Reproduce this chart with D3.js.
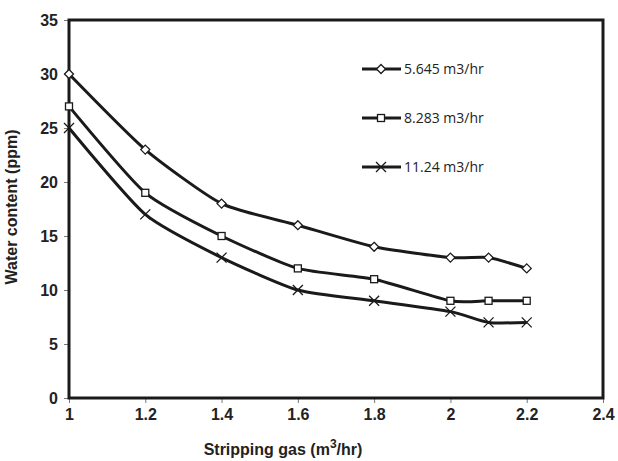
<!DOCTYPE html>
<html>
<head>
<meta charset="utf-8">
<script src="https://cdn.jsdelivr.net/npm/d3@7"></script>
<style>
  body { margin: 0; background: #fff; }
</style>
</head>
<body>
<div id="chart"></div>
<script>
// Data
const xValues = [1, 1.2, 1.4, 1.6, 1.8, 2, 2.1, 2.2];
const series1 = [30, 23, 18, 16, 14, 13, 13, 12];   // 5.645 m3/hr
const series2 = [27, 19, 15, 12, 11, 9, 9, 9];      // 8.283 m3/hr
const series3 = [25, 17, 13, 10, 9, 8, 7, 7];       // 11.24 m3/hr
const seriesNames = ['5.645 m3/hr', '8.283 m3/hr', '11.24 m3/hr'];
const xTicks = [1, 1.2, 1.4, 1.6, 1.8, 2, 2.2, 2.4];
const yTicks = [0, 5, 10, 15, 20, 25, 30, 35];

const W = 618, H = 461;
const margin = { top: 20, right: 15, bottom: 63, left: 69 };
const width = W - margin.left - margin.right;
const height = H - margin.top - margin.bottom;
const FONT = '"Liberation Sans", Arial, sans-serif';

const svg = d3.select('#chart').append('svg')
    .attr('width', W).attr('height', H);
const g = svg.append('g')
    .attr('transform', `translate(${margin.left},${margin.top})`);

const x = d3.scaleLinear().domain([1, 2.4]).range([0, width]);
const y = d3.scaleLinear().domain([0, 35]).range([height, 0]);

// Axes
const xAxis = g.append('g')
    .attr('transform', `translate(0,${height})`)
    .call(d3.axisBottom(x).tickValues(xTicks).tickSize(5).tickPadding(6).tickFormat(d3.format('')));
const yAxis = g.append('g')
    .call(d3.axisLeft(y).tickValues(yTicks).tickSize(5).tickPadding(6));
[xAxis, yAxis].forEach(a => {
    a.select('.domain').remove();
    a.attr('font-family', FONT).attr('font-size', 16).attr('font-weight', 'bold');
    a.selectAll('.tick text').attr('fill', '#222');
    a.selectAll('.tick line').attr('stroke', '#777').attr('stroke-width', 1);
});

// Frame
g.append('rect')
    .attr('x', 0).attr('y', 0)
    .attr('width', width).attr('height', height)
    .attr('fill', 'none')
    .attr('stroke', '#1a1a1a')
    .attr('stroke-width', 3);

// Axis titles
g.append('text')
    .attr('transform', 'rotate(-90)')
    .attr('x', -height / 2 + 2)
    .attr('y', -52)
    .attr('text-anchor', 'middle')
    .attr('font-family', FONT)
    .attr('font-weight', 'bold')
    .attr('font-size', 16)
    .attr('fill', '#222')
    .text('Water content (ppm)');

const xt = svg.append('text')
    .attr('x', 283)
    .attr('y', 455)
    .attr('text-anchor', 'middle')
    .attr('font-family', FONT)
    .attr('font-weight', 'bold')
    .attr('font-size', 16)
    .attr('fill', '#222');
xt.append('tspan').text('Stripping gas (m');
xt.append('tspan').attr('dy', -7).attr('font-size', 12).text('3');
xt.append('tspan').attr('dy', 7).text('/hr)');

// Lines
const allSeries = [series1, series2, series3];
const markers = ['diamond', 'square', 'cross'];
const line = d3.line()
    .x((d, i) => x(xValues[i]))
    .y(d => y(d))
    .curve(d3.curveCardinal.tension(0.4));

function drawMarker(sel, type, cx, cy) {
    if (type === 'diamond') {
        sel.append('path')
            .attr('d', `M${cx},${cy - 4.5}L${cx + 4.5},${cy}L${cx},${cy + 4.5}L${cx - 4.5},${cy}Z`)
            .attr('fill', '#fff').attr('stroke', '#1a1a1a').attr('stroke-width', 1.3);
    } else if (type === 'square') {
        sel.append('rect')
            .attr('x', cx - 3.5).attr('y', cy - 3.5).attr('width', 7).attr('height', 7)
            .attr('fill', '#fff').attr('stroke', '#1a1a1a').attr('stroke-width', 1.3);
    } else {
        sel.append('path')
            .attr('d', `M${cx - 5},${cy - 5}L${cx + 5},${cy + 5}M${cx - 5},${cy + 5}L${cx + 5},${cy - 5}`)
            .attr('stroke', '#1a1a1a').attr('stroke-width', 1.3);
    }
}

allSeries.forEach((s, k) => {
    g.append('path')
        .datum(s)
        .attr('fill', 'none')
        .attr('stroke', '#1a1a1a')
        .attr('stroke-width', 3)
        .attr('d', line);
    const mg = g.append('g');
    s.forEach((v, i) => drawMarker(mg, markers[k], x(xValues[i]), y(v)));
});

// Legend
const legend = svg.append('g');
const legendY = [69, 118, 167];
seriesNames.forEach((name, k) => {
    legend.append('line')
        .attr('x1', 362).attr('x2', 401)
        .attr('y1', legendY[k]).attr('y2', legendY[k])
        .attr('stroke', '#1a1a1a').attr('stroke-width', 3);
    drawMarker(legend, markers[k], 381, legendY[k]);
    legend.append('text')
        .attr('x', 404)
        .attr('y', legendY[k] + 5)
        .attr('font-family', '"Open Sans", "Noto Sans", sans-serif')
        .attr('font-size', 14)
        .attr('fill', '#222')
        .text(name);
});
</script>
</body>
</html>
